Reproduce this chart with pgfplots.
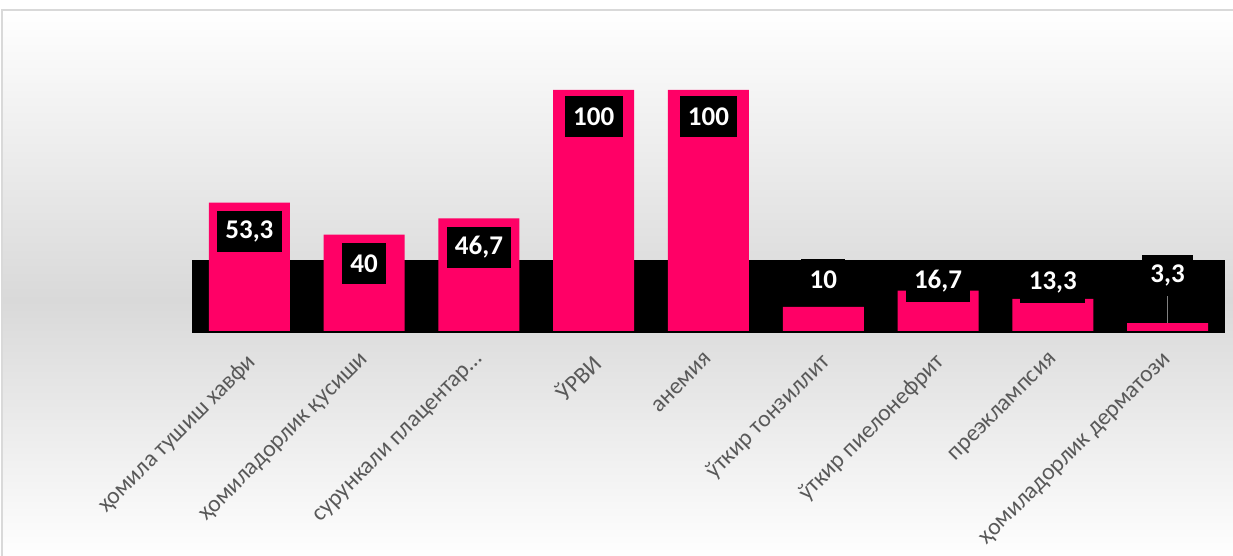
\documentclass[border=0pt]{standalone}
\usepackage{fontspec}
\setmainfont{Carlito}
\usepackage{pgfplots}
\pgfplotsset{compat=1.18}
\definecolor{barpink}{RGB}{255,0,102}
\definecolor{ticktext}{RGB}{89,89,89}
\definecolor{bgmid}{RGB}{217,217,217}
\definecolor{framecol}{RGB}{217,217,217}
\begin{document}
\begin{tikzpicture}[x=1pt,y=1pt]
\useasboundingbox (0,0) rectangle (616.5,278);
\shade[top color=white, bottom color=bgmid] (1,128) rectangle (620,273);
\shade[top color=bgmid, bottom color=white] (1,-2) rectangle (620,128);
\draw[framecol, line width=0.6pt] (1,-5) -- (1,273) -- (625,273);
\begin{axis}[at={(96pt,111.3pt)}, anchor=south west, scale only axis,
  width=516.5pt, height=127.75pt,
  xmin=-0.5, xmax=8.5, ymin=-1, ymax=105,
  axis line style={draw=none}, tick style={draw=none},
  ytick=\empty, xtick={0,1,2,3,4,5,6,7,8},
  xticklabels={{ҳомила тушиш хавфи}, {ҳомиладорлик қусиши}, {сурункали плацентар…}, {ЎРВИ}, {анемия}, {ўткир тонзиллит}, {ўткир пиелонефрит}, {преэклампсия}, {ҳомиладорлик дерматози}},
  xticklabel style={xshift=-2pt, rotate=45, anchor=north east, font=\fontsize{11.8}{14}\selectfont, text=ticktext, inner sep=0pt},
  xticklabel shift=9pt]
\fill[black] (axis cs:-0.5,-1) rectangle (axis cs:8.5,29.46);
\addplot[ybar, bar width=40.5pt, fill=barpink, draw=none] coordinates {(0,53.3) (1,40) (2,46.7) (3,100) (4,100) (5,10) (6,16.7) (7,13.3) (8,3.3)};
\draw[gray] (axis cs:8,3.3) -- (axis cs:8,14.5);
\addplot[draw=none, nodes near coords, point meta=explicit symbolic,
  nodes near coords style={anchor=center, fill=black, text=white, font=\bfseries\fontsize{13.5}{15}\selectfont, inner xsep=4.2pt, minimum height=20.5pt}]
  table[meta=label] {
x y label
0 41.3 53,3
1 28.0 40
2 34.6 46,7
3 88.8 100
4 88.8 100
5 21.2 10
6 20.5 16,7
7 20.3 13,3
8 23.0 3,3
};
\end{axis}
\end{tikzpicture}
\end{document}
